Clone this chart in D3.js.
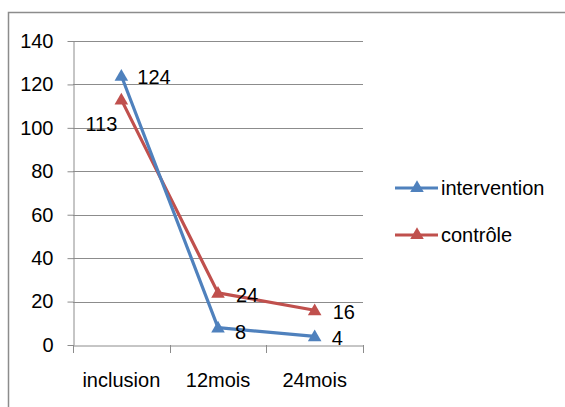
<!DOCTYPE html>
<html><head><meta charset="utf-8">
<script src="https://cdn.jsdelivr.net/npm/d3@7"></script>
<style>body{margin:0;background:#fff}svg{display:block}text{font-family:"Liberation Sans",Arial,sans-serif}</style>
</head><body>
<script>
const categories = ["inclusion", "12mois", "24mois"];
const intervention = [124, 8, 4];
const controle = [113, 24, 16];
const seriesNames = ["intervention", "contrôle"];
const yTicks = [0, 20, 40, 60, 80, 100, 120, 140];

(function () {
const W = 565, H = 407, FS = 20;
const svg = d3.select("body").append("svg").attr("width", W).attr("height", H);

// outer frame (top & left visible)
svg.append("path").attr("d", `M8.5,${H} V12.5 H${W}`).attr("fill", "none").attr("stroke", "#8c8c8c").attr("stroke-width", 1.5);

const pL = 73, pR = 363, pT = 41, pB = 345;
const x = d3.scaleBand().domain(categories).range([pL, pR]);
const y = d3.scaleLinear().domain([0, 140]).range([pB, pT]);
const cx = c => x(c) + x.bandwidth() / 2;

// gridlines
svg.append("g").selectAll("line").data(yTicks.filter(d => d > 0)).join("line")
  .attr("x1", pL).attr("x2", pR).attr("y1", d => Math.round(y(d)) + 0.5).attr("y2", d => Math.round(y(d)) + 0.5)
  .attr("stroke", "#8c8c8c").attr("stroke-width", 1);

// y axis
const yAxis = svg.append("g").attr("transform", `translate(${pL + 0.5},0)`)
  .call(d3.axisLeft(y).tickValues(yTicks).tickSize(6).tickSizeOuter(0).tickPadding(14));
yAxis.select(".domain").attr("stroke", "#8c8c8c");
yAxis.selectAll(".tick line").attr("stroke", "#8c8c8c");
yAxis.selectAll("text").attr("font-size", FS).attr("fill", "#000").attr("font-family", "Liberation Sans, Arial, sans-serif");

// x axis
const xAxis = svg.append("g").attr("transform", `translate(0,${pB + 0.5})`)
  .call(d3.axisBottom(x).tickSize(0).tickPadding(27));
xAxis.select(".domain").attr("stroke", "#8c8c8c");
xAxis.selectAll("text").attr("font-size", FS).attr("fill", "#000").attr("font-family", "Liberation Sans, Arial, sans-serif");
// category boundary ticks
svg.append("g").selectAll("line").data([pL, ...categories.map(c => x(c) + x.bandwidth())]).join("line")
  .attr("x1", d => Math.round(d) + 0.5).attr("x2", d => Math.round(d) + 0.5)
  .attr("y1", pB).attr("y2", pB + 8).attr("stroke", "#8c8c8c");

const colors = ["#4f81bd", "#c0504d"];
const series = [intervention, controle];
const tri = d3.symbol().type(d3.symbolTriangle).size(80);
const line = d3.line().x((d, i) => cx(categories[i])).y(d => y(d));

[1, 0].forEach(s => {
  const g = svg.append("g");
  g.append("path").datum(series[s]).attr("d", line).attr("fill", "none")
    .attr("stroke", colors[s]).attr("stroke-width", 3.2).attr("stroke-linejoin", "round");
  g.selectAll("path.m").data(series[s]).join("path").attr("class", "m")
    .attr("d", tri).attr("fill", colors[s])
    .attr("transform", (d, i) => `translate(${cx(categories[i])},${y(d) + 1})`);
});

// data labels: offsets relative to point
const labelOffsets = [
  [[16, 1, "start"], [17, 4, "start"], [17, 2, "start"]],
  [[-4, 24, "end"], [18, 2, "start"], [18, 2, "start"]]
];
series.forEach((vals, s) => {
  svg.append("g").selectAll("text").data(vals).join("text")
    .attr("x", (d, i) => cx(categories[i]) + labelOffsets[s][i][0])
    .attr("y", (d, i) => y(d) + labelOffsets[s][i][1])
    .attr("dy", "0.35em").attr("text-anchor", (d, i) => labelOffsets[s][i][2])
    .attr("font-size", FS).attr("fill", "#000").text(d => d);
});

// legend
const leg = svg.append("g");
seriesNames.forEach((n, i) => {
  const ly = 188 + i * 47;
  leg.append("line").attr("x1", 395).attr("x2", 438).attr("y1", ly).attr("y2", ly)
    .attr("stroke", colors[i]).attr("stroke-width", 3.2);
  leg.append("path").attr("d", tri).attr("fill", colors[i]).attr("transform", `translate(417,${ly})`);
  leg.append("text").attr("x", 441).attr("y", ly).attr("dy", "0.35em").attr("font-size", FS).attr("fill", "#000").text(n);
});
})();
</script>
</body></html>
